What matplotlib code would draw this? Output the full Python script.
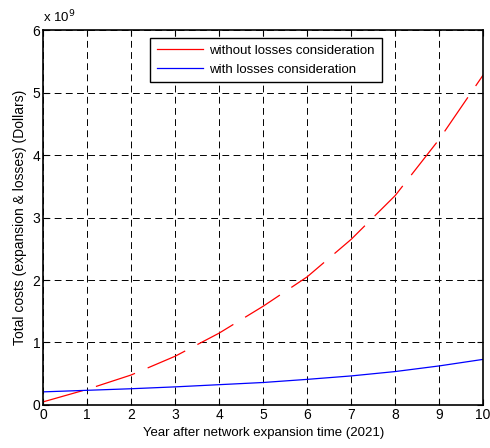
import matplotlib
matplotlib.use("Agg")
import matplotlib.pyplot as plt
from matplotlib.lines import Line2D

plt.rcParams['font.family'] = ['Liberation Sans', 'DejaVu Sans']

years = [0, 1, 2, 3, 4, 5, 6, 7, 8, 9, 10]
# costs in 1e9 dollars
without_losses = [0.05, 0.25, 0.48, 0.78, 1.15, 1.58, 2.05, 2.65, 3.35, 4.25, 5.28]
with_losses = [0.21, 0.235, 0.26, 0.29, 0.325, 0.36, 0.41, 0.465, 0.535, 0.625, 0.73]
labels = ['without losses consideration', 'with losses consideration']

fig = plt.figure(figsize=(4.9, 4.48), dpi=100)
ax = fig.add_axes([0.088, 0.096, 0.898, 0.837])

ax.plot(years, without_losses, color='#ff0000', lw=0.9, linestyle=(0, (33, 11)))
ax.plot(years, with_losses, color='#0000ff', lw=0.9)

ax.set_xlim(0, 10)
ax.set_ylim(0, 6)
ax.set_xticks(range(0, 11))
ax.set_yticks(range(0, 7))
ax.grid(True, color='black', linestyle=(0, (7, 4.5)), lw=0.7)
ax.tick_params(direction='in', top=True, right=True, labelsize=10, length=4, pad=2)
for s in ax.spines.values():
    s.set_linewidth(1.2)

ax.set_xlabel('Year after network expansion time (2021)', fontsize=9.5, labelpad=4)
ax.set_ylabel('Total costs (expansion & losses) (Dollars)', fontsize=10, labelpad=4)
ax.text(0, 1.012, r'x 10$^{9}$', transform=ax.transAxes, fontsize=9.5, va='bottom')

handles = [Line2D([], [], color='#ff0000', lw=0.9),
           Line2D([], [], color='#0000ff', lw=0.9)]
leg = ax.legend(handles, labels, loc='upper left', bbox_to_anchor=(0.243, 0.979),
                borderaxespad=0, fontsize=9.5, fancybox=False, framealpha=1,
                edgecolor='black', handlelength=3.5, borderpad=0.5, labelspacing=0.5,
                handletextpad=0.5)
leg.get_frame().set_linewidth(1.0)

fig.savefig('out.png', dpi=100)
